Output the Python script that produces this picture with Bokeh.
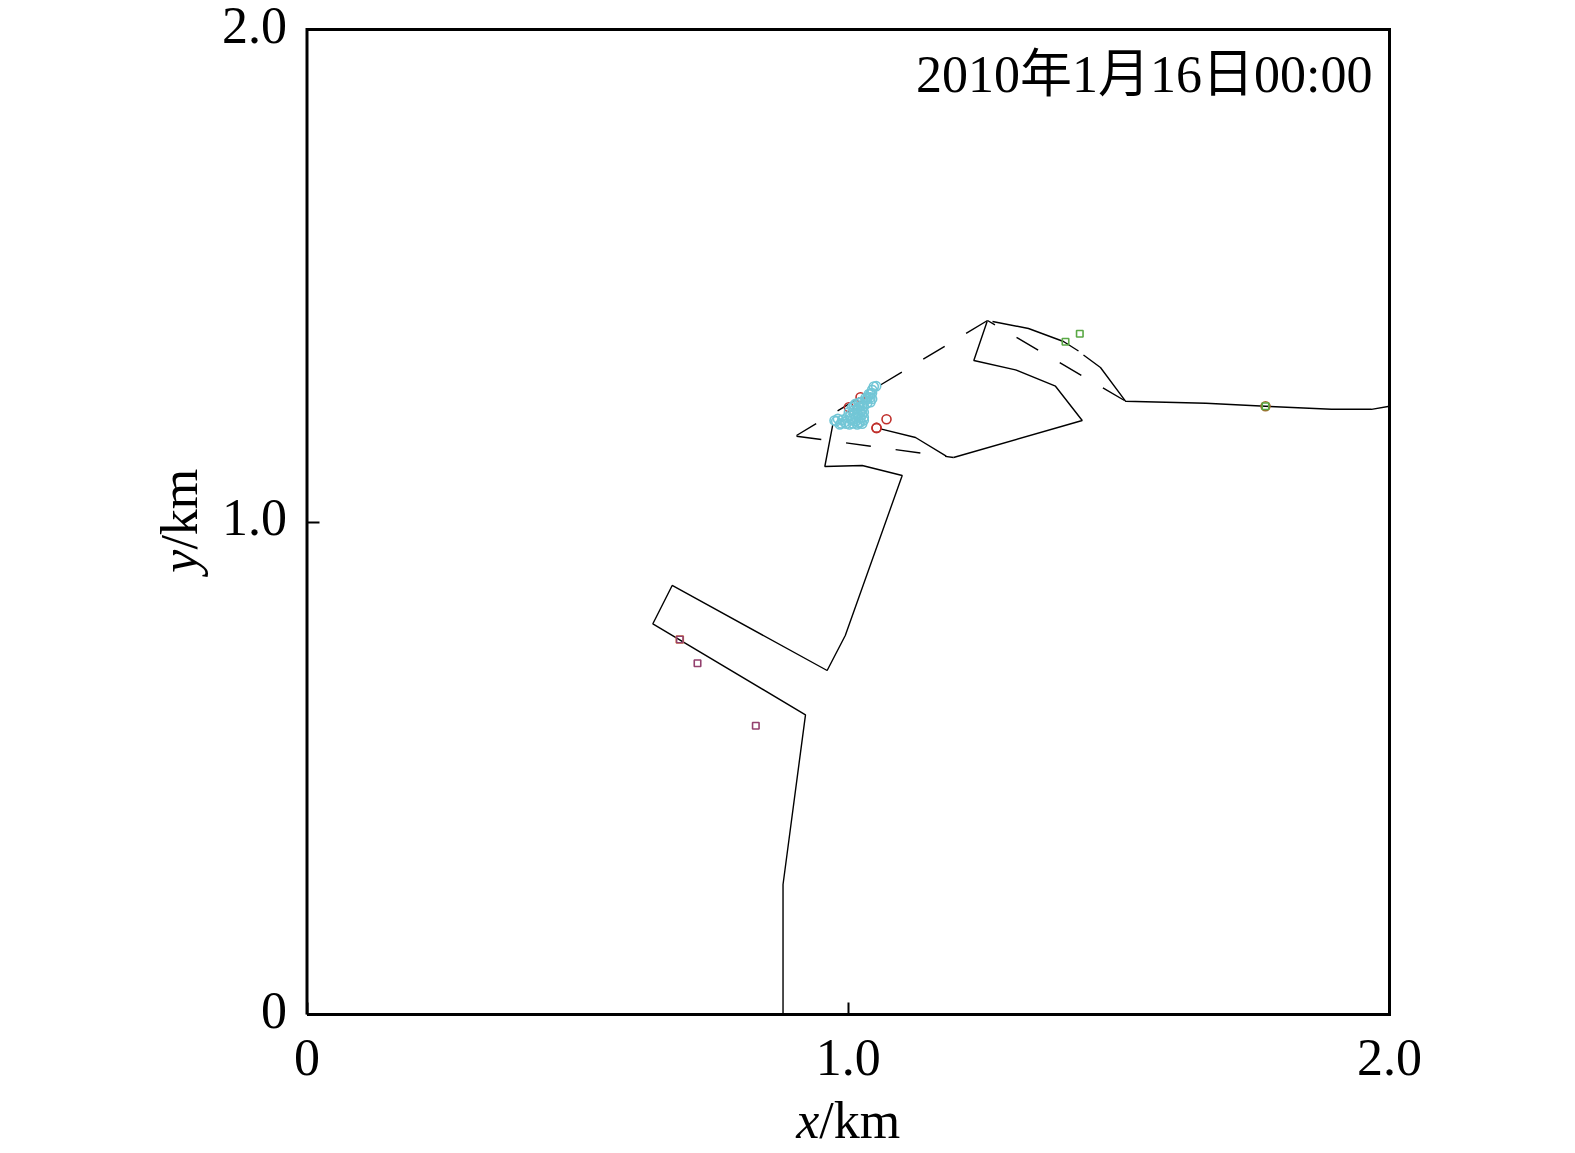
from bokeh.plotting import figure
from bokeh.models import Range1d, FixedTicker, Label, LinearAxis
from bokeh.embed import file_html
from bokeh.resources import INLINE
import math

SERIF = "Liberation Serif, Noto Sans CJK SC"

# Coastline / boundary, solid parts (km)
solid_x = [
    [0.8795, 0.8795, 0.921, 0.639, 0.6747, 0.961, 0.9945, 1.0997, 1.0258, 0.9567, 0.9715],
    [1.2665, 1.333, 1.3977, 1.4254],
    [1.4346, 1.466, 1.5122, 1.6608, 1.7709, 1.8928, 1.9667, 2.0],
    [1.0596, 1.1243, 1.181],
    [1.1945, 1.4323, 1.3829, 1.309, 1.232, 1.2567],
]
solid_y = [
    [0.0, 0.264, 0.6085, 0.7933, 0.8711, 0.6985, 0.7695, 1.0944, 1.1147, 1.1127, 1.198],
    [1.4071, 1.3929, 1.3665, 1.3472],
    [1.3391, 1.3137, 1.2453, 1.241, 1.2351, 1.2288, 1.2288, 1.235],
    [1.1892, 1.1716, 1.1336],
    [1.131, 1.2061, 1.2757, 1.309, 1.3279, 1.4077],
]
# Dashed boundary parts (km)
dashed_x = [[1.5104, 1.2573], [1.2573, 0.9044], [0.9044, 1.1945]]
dashed_y = [[1.2467, 1.4091], [1.4091, 1.1756], [1.1742, 1.131]]

# Markers (km)
blue_x = [0.9746, 0.9808, 0.9845, 0.9888, 0.9931, 1.0023, 0.998, 1.0073, 1.0165, 1.0227, 1.0288,
          1.0011, 1.0103, 1.0196, 1.0073, 1.0165, 1.0258, 1.0288, 1.0134, 1.0227, 1.0319, 1.0411,
          1.0362, 1.0442, 1.0411, 1.0442, 1.0473, 1.0516,
          0.9777, 0.9869, 0.9962, 1.0085, 1.0134, 1.0196, 1.0258, 1.0288, 1.0042, 1.0134, 1.0227,
          1.0042, 1.0165, 1.0258, 1.0104, 1.0227, 1.0288, 1.0196, 1.0258, 1.035, 1.035, 1.0411,
          1.0319, 1.038, 1.044, 1.0104, 1.0196]
blue_y = [1.206, 1.2094, 1.1979, 1.2074, 1.2027, 1.1979, 1.2128, 1.206, 1.1979, 1.2027, 1.2128,
          1.223, 1.2196, 1.2162, 1.2331, 1.2297, 1.2263, 1.2345, 1.2399, 1.2433, 1.2467, 1.2433,
          1.2534, 1.25, 1.2602, 1.2683, 1.2751, 1.2758,
          1.2045, 1.2, 1.1995, 1.2, 1.204, 1.201, 1.1995, 1.2065, 1.2095, 1.213, 1.211,
          1.218, 1.22, 1.218, 1.227, 1.225, 1.223, 1.233, 1.237, 1.241, 1.25, 1.253,
          1.252, 1.26, 1.262, 1.2365, 1.2415]
red_x = [1.0707, 1.0523, 1.0523, 1.0227, 1.0011]
red_y = [1.2087, 1.1911, 1.1911, 1.2534, 1.2331]
olive_x = [1.7709]
olive_y = [1.2351]
orange_sq_x = [0.6888]
orange_sq_y = [0.7614]
purple_sq_x = [0.6888, 0.7215, 0.8292]
purple_sq_y = [0.7614, 0.7133, 0.5862]
green_sq_x = [1.4014, 1.4278, 1.7709]
green_sq_y = [1.3659, 1.3821, 1.2351]
box_x = [0, 2, 2, 0, 0]
box_y = [0, 0, 2, 2, 0]

tick_values = [0, 1, 2]
x_tick_labels = {0: "0", 1: "1.0", 2: "2.0"}
y_tick_text = ["0", "1.0", "2.0"]
stamp = "2010年1月16日00:00"

W, H = 1558, 1152
LEFT, TOP, PW, PH = 306.5, 29.0, 1082.5, 985.0
sx, sy = PW / 2, PH / 2
p = figure(width=W, height=H,
           x_range=Range1d(-LEFT / sx, (W - LEFT) / sx),
           y_range=Range1d(-(H - TOP - PH) / sy, 2 + TOP / sy),
           output_backend="svg", toolbar_location=None,
           min_border=0)
p.grid.visible = False
p.outline_line_color = None
p.background_fill_color = "white"
p.border_fill_color = "white"

def style(ax):
    ax.fixed_location = 0
    ax.bounds = (0, 2)
    ax.major_tick_in = 12
    ax.major_tick_out = 0
    ax.major_tick_line_width = 2
    ax.major_tick_line_color = "black"
    ax.minor_tick_line_color = None
    ax.axis_line_color = None
    ax.major_label_text_font = SERIF
    ax.major_label_text_font_size = "52px"
    ax.major_label_text_color = "black"

style(p.xaxis[0])
p.xaxis[0].ticker = FixedTicker(ticks=tick_values)
p.xaxis[0].major_label_overrides = x_tick_labels
p.xaxis[0].major_label_standoff = 25

# y axis: tick marks on one axis; the labels sit a few px above their ticks in the reference
style(p.yaxis[0])
p.yaxis[0].ticker = FixedTicker(ticks=tick_values)
p.yaxis[0].major_label_overrides = {t: "" for t in tick_values}
label_nudge = 4.5 / sy
y_label_axis = LinearAxis()
style(y_label_axis)
y_label_axis.major_tick_line_color = None
y_label_axis.ticker = FixedTicker(ticks=[t + label_nudge for t in tick_values])
y_label_axis.major_label_overrides = {t + label_nudge: s for t, s in zip(tick_values, y_tick_text)}
y_label_axis.major_label_standoff = 20
p.add_layout(y_label_axis, "left")

p.line(box_x, box_y, line_color="black", line_width=3, line_join="miter")
p.multi_line(solid_x, solid_y, line_color="black", line_width=1.4)
p.multi_line(dashed_x, dashed_y, line_color="black", line_width=1.4, line_dash="25 25")

ring = dict(fill_color=None, line_width=1.6)
p.scatter(red_x, red_y, marker="circle", size=9, line_color="#c0302c", **ring)
p.scatter(olive_x, olive_y, marker="circle", size=9, line_color="#a8682c", **ring)
p.scatter(blue_x, blue_y, marker="circle", size=9, line_color="#72c6d6", **ring)
p.scatter(orange_sq_x, orange_sq_y, marker="square", size=7, line_color="#e8903c", **ring)
p.scatter(purple_sq_x, purple_sq_y, marker="square", size=6.5, line_color="#93406e", **ring)
p.scatter(green_sq_x, green_sq_y, marker="square", size=6.5, line_color="#5aa845", **ring)

def txt(x, y, s, **kw):
    p.add_layout(Label(x=x, y=y, text=s, text_font=SERIF, text_font_size="52px",
                       text_color="black", text_baseline="alphabetic", **kw))

txt(1.9686, 1.908, stamp, text_align="right")
txt(0.9038, -0.215, "x", text_font_style="italic", text_align="left")
txt(0.9465, -0.215, "/km", text_align="left")
txt(-0.236, 0.897, "y", text_font_style="italic", text_align="left", angle=math.pi / 2)
txt(-0.236, 0.944, "/km", text_align="left", angle=math.pi / 2)

open("out.html", "w").write(file_html(p, INLINE))
